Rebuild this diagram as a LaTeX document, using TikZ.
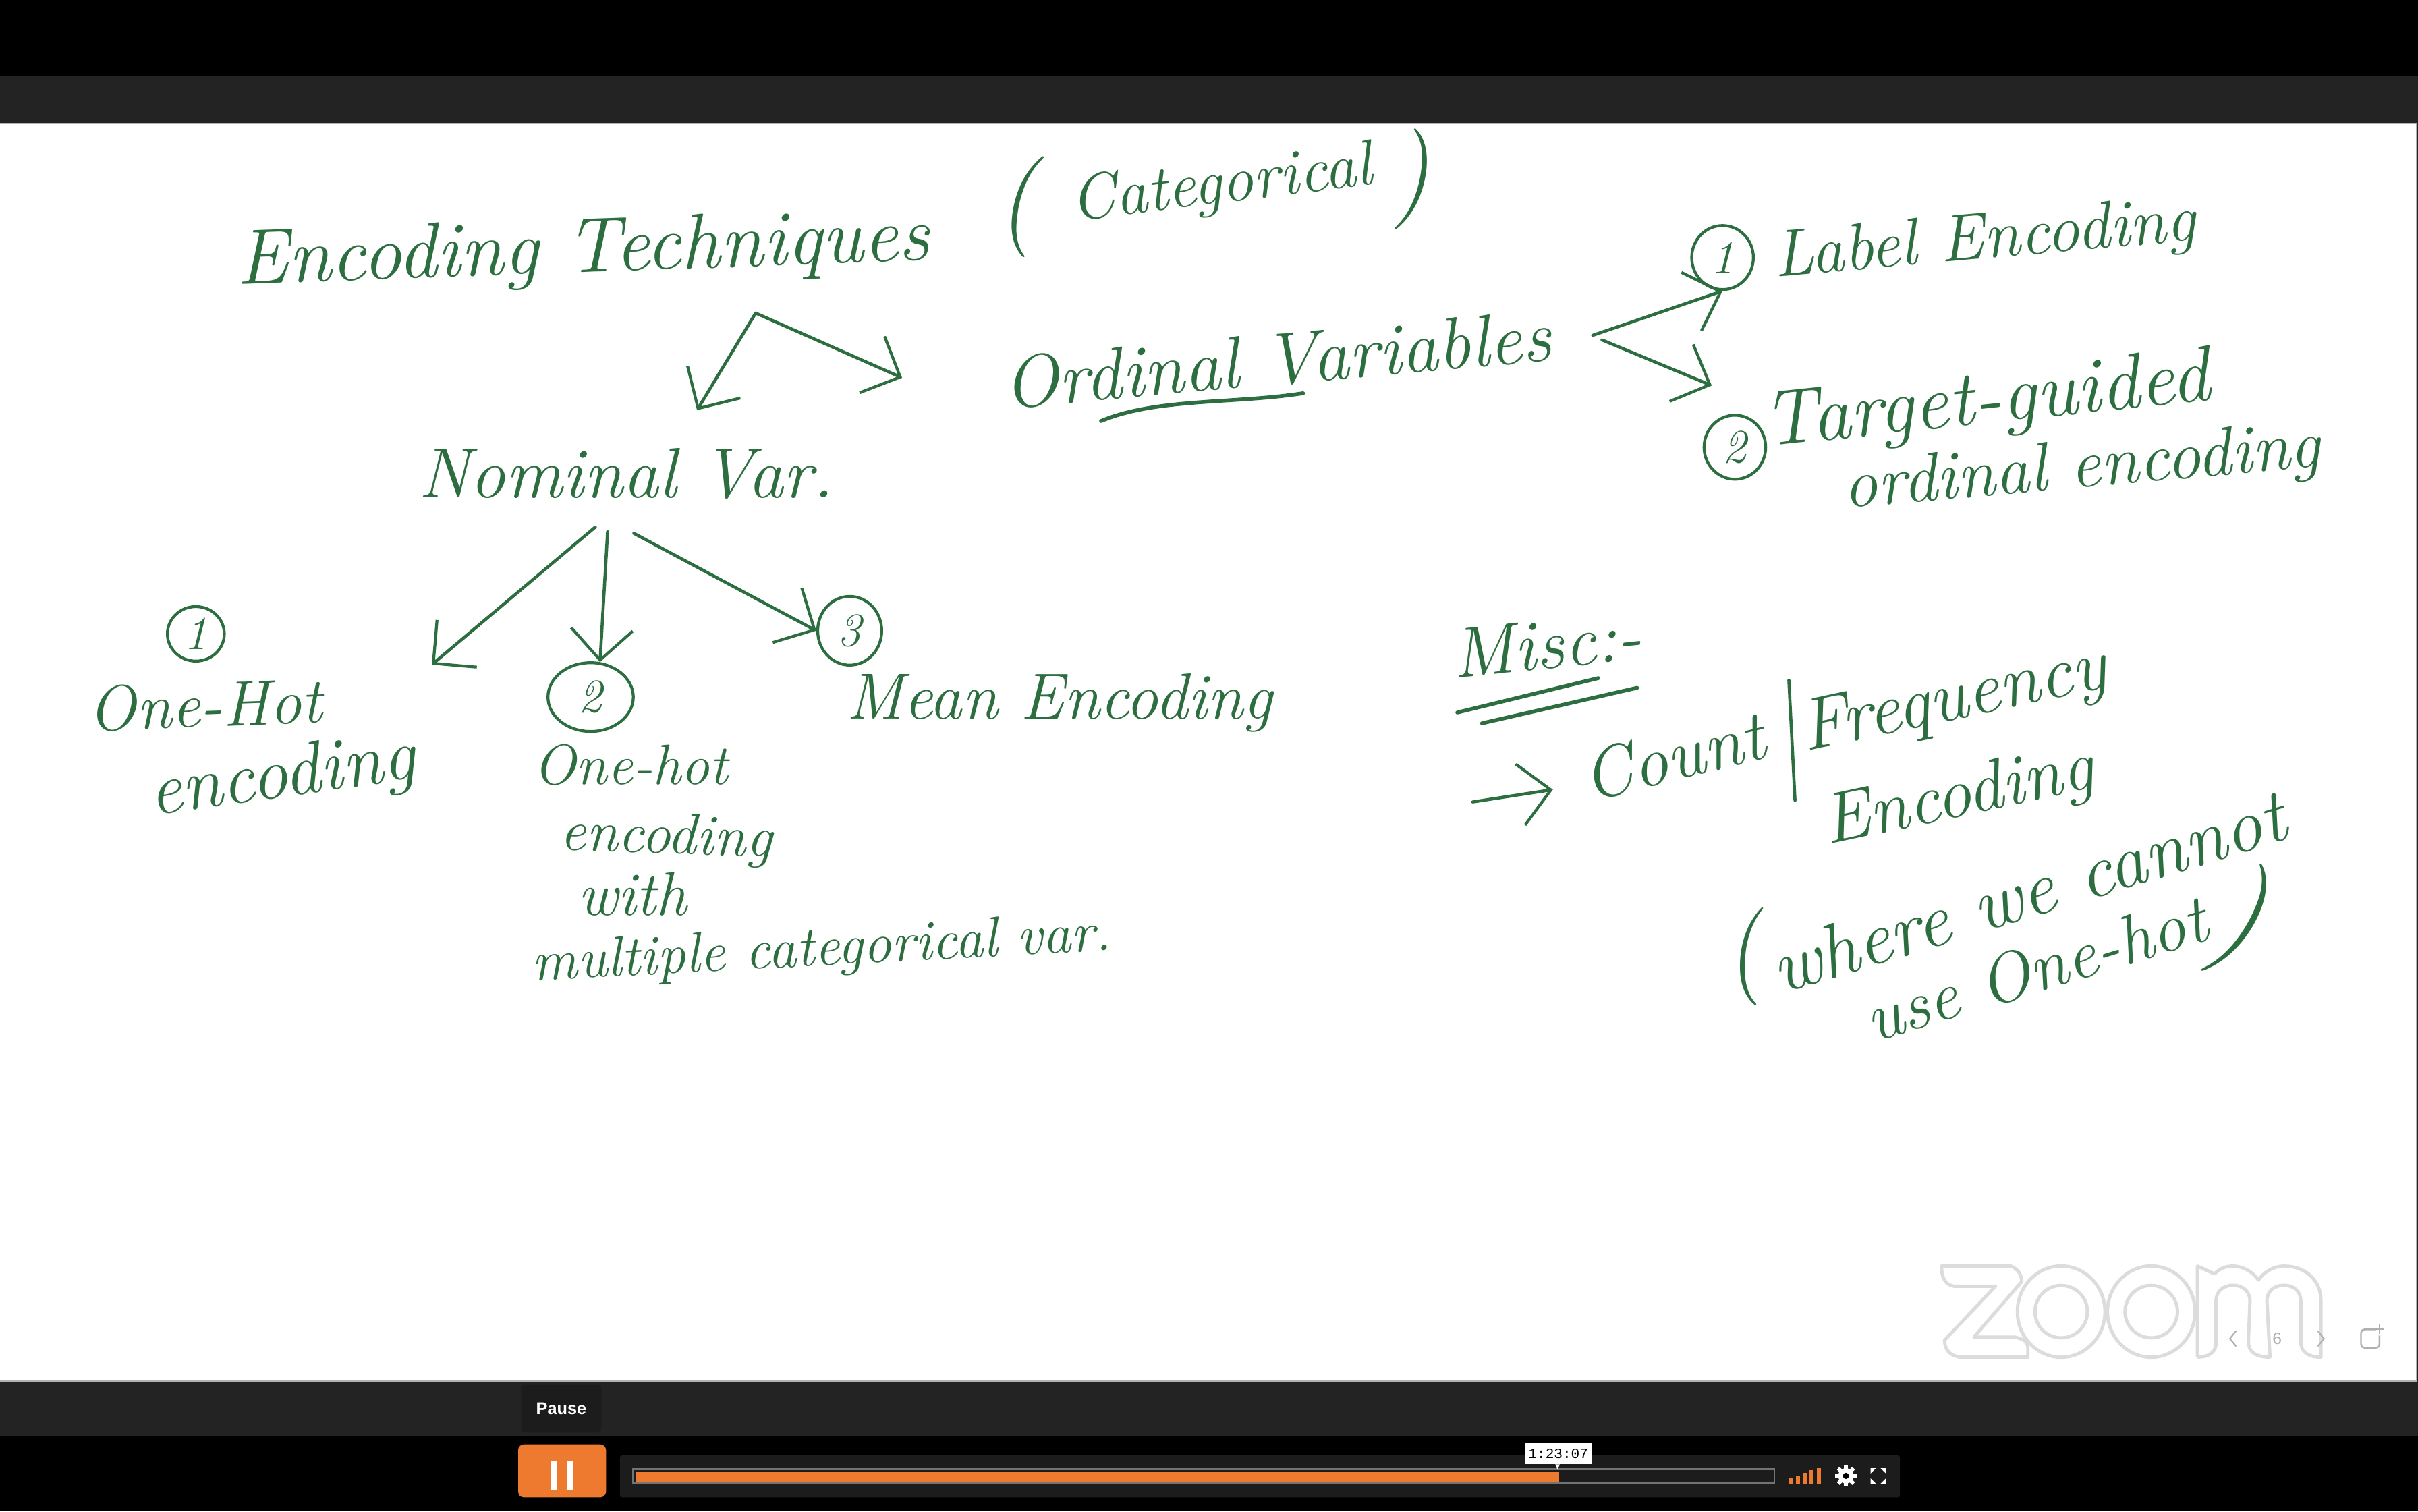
\documentclass[tikz,border=0pt]{standalone}
\usepackage{fontspec}
\newfontfamily\uifont{Liberation Sans}
\newfontfamily\timefont{Liberation Mono}
\usetikzlibrary{arrows.meta,shapes.geometric}
\definecolor{inkgreen}{HTML}{2C6E3F}
\definecolor{barblack}{HTML}{000000}
\definecolor{bardark}{HTML}{232323}
\definecolor{ctrldark}{HTML}{1C1C1C}
\definecolor{ctrlorange}{HTML}{EE7A30}
\definecolor{logogray}{HTML}{DCDCDC}
\tikzset{
    hand/.style={font=\itshape\fontsize{#1}{#1}\selectfont,text=inkgreen,inner sep=0pt},
    pen/.style={draw=inkgreen,line width=1.3pt,line cap=round},
    penarrow/.style={pen,-{Straight Barb[length=13pt,width=26pt,line width=1.2pt]}},
    numring/.style={ellipse,draw=inkgreen,line width=1.2pt,text=inkgreen,inner sep=0pt,font=\itshape\fontsize{20pt}{20pt}\selectfont},
    logoline/.style={draw=logogray,line width=1.4pt}
}
\begin{document}
\begin{tikzpicture}[x=0.022857cm,y=-0.022857cm]
    \useasboundingbox (0,0) rectangle (1568,980);
    \fill[barblack] (0,0) rectangle (1568,980);
    \fill[bardark] (0,49) rectangle (1568,931);
    \fill[white] (0,80) rectangle (1567,895.5);
    \draw[gray!60,line width=.6pt] (0,80) -- (1567,80);
    \draw[gray!60,line width=.6pt] (0,895.5) -- (1567,895.5) -- (1567,80);

    % zoom watermark
    \draw[logoline,line join=round] (1259,821) -- (1304,821) .. controls (1309,823) and (1311,827) .. (1311,831)
        -- (1280,867) -- (1306,867) .. controls (1312,868) and (1315,870) .. (1315,874) -- (1315,880) -- (1271,880)
        .. controls (1264,879) and (1261,875) .. (1261,869) -- (1294,834) -- (1267,834) .. controls (1261,833) and (1259,828) .. (1259,821) -- cycle;
    \foreach \cx in {1336.6,1395} {
        \draw[logoline] (\cx,850.5) ellipse (28.4 and 29.6);
        \draw[logoline] (\cx,850.5) ellipse (17 and 17);
    }
    \draw[logoline,line join=round] (1425,880) -- (1425,821) -- (1436,826) .. controls (1440,822) and (1444,821) .. (1448,821)
        .. controls (1455,821) and (1461,825) .. (1464.5,830) .. controls (1468,825) and (1474,821) .. (1481,821)
        .. controls (1496,821) and (1505,831) .. (1505,843) -- (1505,880) .. controls (1497,880) and (1492,877) .. (1492,870)
        -- (1492,843.6) .. controls (1492,837) and (1487,833.4) .. (1481,833.4) .. controls (1475,833.4) and (1470,837) .. (1470,843.6)
        -- (1472,880) .. controls (1463,880) and (1458,877) .. (1458,870) -- (1459,843.6) .. controls (1459,837) and (1454,833.4) .. (1448,833.4)
        .. controls (1442,833.4) and (1437,837) .. (1437,843.6) -- (1437,872) .. controls (1436,878) and (1431,880) .. (1425,880);
    \draw[logogray!80!black,line width=.6pt] (1450,863) -- (1446,868) -- (1450,873);
    \draw[logogray!80!black,line width=.6pt] (1503,863) -- (1507,868) -- (1503,873);
    \node[text=logogray!80!black,font=\uifont\fontsize{7pt}{7pt}\selectfont,inner sep=0pt] (pagenum) at (1476.6,868) {6};
    \draw[logogray!80!black,line width=.7pt,rounded corners=1.5pt] (1541,862) -- (1531,862) -- (1531,874) -- (1543,874) -- (1543,866);
    \draw[logogray!80!black,line width=.6pt] (1540,862) -- (1546,862) (1543,859) -- (1543,865);

    % board text
    \node[hand=33pt,rotate=2] (title) at (378,164) {Encoding Techniques};
    \node[hand=42pt,rotate=3] (catopen) at (659,135) {(};
    \node[hand=27pt,rotate=7] (cat) at (792,121) {Categorical};
    \node[hand=42pt,rotate=3] (catclose) at (915,116) {)};
    \node[hand=31pt,rotate=5] (ord) at (828,233) {Ordinal Variables};
    \node[hand=30pt] (nom) at (406,307) {Nominal Var.};
    \node[numring,minimum width=24pt,minimum height=23pt] (hotnum) at (127,411) {1};
    \node[hand=27pt,rotate=2] (hot) at (133,457) {One-Hot};
    \node[hand=31pt,rotate=8] (hotenc) at (183,505) {encoding};
    \node[numring,minimum width=36pt,minimum height=29pt] (multinum) at (383,452) {2};
    \node[hand=24pt] (multi) at (409,496) {One-hot};
    \node[hand=24.5pt,rotate=-2] (multienc) at (432,544) {encoding};
    \node[hand=26pt] (multiwith) at (410,580) {with};
    \node[hand=24pt,rotate=3] (multicat) at (533,617) {multiple categorical var.};
    \node[numring,minimum width=27pt,minimum height=29pt] (meannum) at (551,409) {3};
    \node[hand=27.5pt] (mean) at (687,456) {Mean Encoding};
    \node[numring,minimum width=26pt,minimum height=27pt] (labelnum) at (1117,167) {1};
    \node[hand=28pt,rotate=5] (label) at (1287,157) {Label Encoding};
    \node[numring,minimum width=26pt,minimum height=27pt] (targetnum) at (1125,290) {2};
    \node[hand=33pt,rotate=6] (target) at (1288,262) {Target-guided};
    \node[hand=29pt,rotate=5] (targetord) at (1350,305) {ordinal encoding};
    \node[hand=30pt,rotate=6] (misc) at (1003,418) {Misc:-};
    \node[hand=30pt,rotate=14] (count) at (1085,490) {Count};
    \node[hand=31pt,rotate=12] (freq) at (1267,455) {Frequency};
    \node[hand=30pt,rotate=12] (freqenc) at (1270,518) {Encoding};
    \node[hand=40pt,rotate=10] (whereopen) at (1130,622) {(};
    \node[hand=32pt,rotate=17] (where) at (1315,578) {where we cannot};
    \node[hand=29pt,rotate=17] (useonehot) at (1320,628) {use One-hot};
    \node[hand=50pt,rotate=-15] (whereclose) at (1451,596) {)};

    % free ends of the arrows
    \coordinate (fork) at (490,203);
    \coordinate (nomtip) at (452,266);
    \coordinate (ordtip) at (585,245);
    \coordinate (hottip) at (280,431);
    \coordinate (targettip) at (1110,250);
    \coordinate (counttail) at (955,520);
    \coordinate (counttip) at (1007,512);

    \draw[penarrow] (fork) -- (nomtip);
    \draw[penarrow] (fork) -- (ordtip);
    \draw[penarrow] ([shift={(-20,18)}]nom.south) -- (hottip);
    \draw[penarrow] ([shift={(-12,21)}]nom.south) -- (multinum.75);
    \draw[penarrow] ([shift={(5,22)}]nom.south) -- (meannum.west);
    \draw[penarrow] ([shift={(27,0)}]ord.east) -- (labelnum.south);
    \draw[penarrow] ([shift={(33,3)}]ord.east) -- (targettip);
    \draw[penarrow] (counttail) -- (counttip);
    \draw[pen,line width=1.6pt] (714,273) .. controls (750,258) and (800,262) .. (845,255);
    \draw[pen,line width=1.6pt] (945,462) -- (1036.5,439.7);
    \draw[pen,line width=1.6pt] (961,469) -- (1061.6,446);
    \draw[pen] (1160,441) -- (1164,519);

    % player controls
    \fill[ctrldark,rounded corners=1.5pt] (338,898) rectangle (390,929);
    \node[text=white,font=\uifont\bfseries\fontsize{7.2pt}{7.2pt}\selectfont,inner sep=0pt] (pause) at (364,913.5) {Pause};
    \fill[ctrlorange,rounded corners=2.5pt] (336,936.5) rectangle (393,971);
    \fill[white] (357,947) rectangle (361.5,966);
    \fill[white] (367.5,947) rectangle (372,966);
    \fill[ctrldark,rounded corners=1pt] (402,943.5) rectangle (1232,971);
    \fill[black!55!white] (410,952) rectangle (1151,962.5);
    \fill[ctrldark] (411,953.5) rectangle (1150,961);
    \fill[ctrlorange] (412,954) rectangle (1011,961);
    \fill[white] (989,935.5) rectangle (1032,949.5);
    \fill[white] (1008.5,949.5) -- (1011.5,949.5) -- (1010,953) -- cycle;
    \node[text=black,font=\timefont\fontsize{6pt}{6pt}\selectfont,inner sep=0pt] (clock) at (1010.5,942.5) {1:23:07};
    \foreach \bx/\by in {1160/958.5,1164.5/957,1169/955,1173.5/953.5,1178/952}
        \fill[ctrlorange] (\bx,\by) rectangle (\bx+2.6,962);
    \fill[white] (1197,957) circle (5);
    \foreach \gearangle in {0,45,...,315}
        \fill[white,rotate around={\gearangle:(1197,957)}] (1195.8,950) rectangle (1198.2,964);
    \fill[black] (1197,957) circle (2);
    \foreach \sx/\sy in {1/1,-1/1,1/-1,-1/-1}
        \fill[white] (1218+\sx*5,957+\sy*5) -- (1218+\sx*5,957+\sy*1.5) -- (1218+\sx*1.5,957+\sy*5) -- cycle;
\end{tikzpicture}
\end{document}
